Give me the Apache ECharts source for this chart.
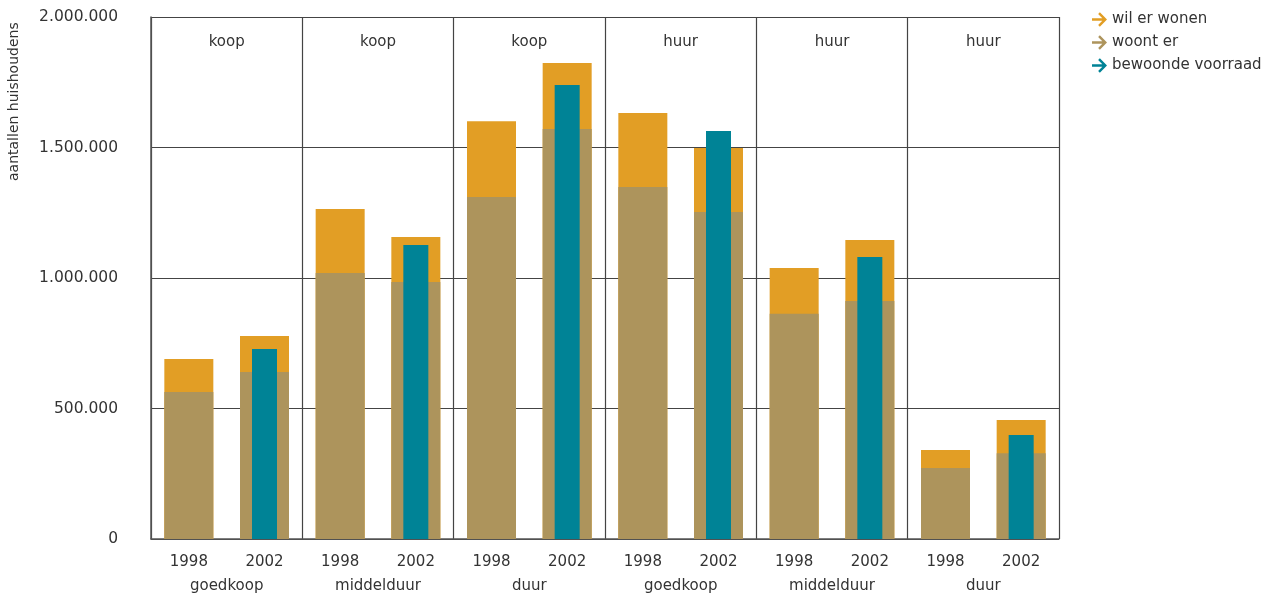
<!DOCTYPE html>
<html><head><meta charset="utf-8">
<script src="https://cdn.jsdelivr.net/npm/echarts@6/dist/echarts.min.js"></script>
<style>html,body{margin:0;padding:0;background:#fff}#c{width:1282px;height:597px}</style>
</head><body><div id="c"></div>
<script>
const years = ['1998','2002','1998','2002','1998','2002','1998','2002','1998','2002','1998','2002'];
const groups = ['goedkoop','middelduur','duur','goedkoop','middelduur','duur'];
const tenure = ['koop','koop','koop','huur','huur','huur'];
const wilErWonen = [690000,778000,1264000,1157000,1601000,1824000,1632000,1498000,1038000,1146000,341000,456000];
const woontEr = [563000,640000,1019000,985000,1310000,1571000,1349000,1253000,863000,912000,272000,329000];
const bewoondeVoorraad = [null,728000,null,1126000,null,1739000,null,1563000,null,1080000,null,398000];
const yTicks = {min:0, max:2000000, interval:500000};

const FONT = 'DejaVu Sans';
const TXT = '#333';
const arrow = 'path://M0,4.2 L7.2,4.2 L4.3,1.2 L5.5,0 L10.5,5 L5.5,10 L4.3,8.8 L7.2,5.8 L0,5.8 Z';
const fmt = v => String(v).replace(/\B(?=(\d{3})+(?!\d))/g, '.');

const chart = echarts.init(document.getElementById('c'), null, {renderer:'canvas'});
chart.setOption({
  animation:false,
  textStyle:{fontFamily:FONT},
  grid:{left:151, right:223, top:17, bottom:58},
  legend:{
    orient:'vertical', left:1087, top:7, itemGap:8, itemWidth:15, itemHeight:15,
    textStyle:{fontFamily:FONT, fontSize:15, color:TXT},
    data:[{name:'wil er wonen', icon:arrow},{name:'woont er', icon:arrow},{name:'bewoonde voorraad', icon:arrow}]
  },
  graphic:[{type:'text', x:7, y:181, rotation:Math.PI/2,
    style:{text:'aantallen huishoudens', fontFamily:FONT, fontSize:14, fill:TXT, textVerticalAlign:'top'}}],
  xAxis:[
    {type:'category', data:years, position:'bottom',
      axisLine:{show:true, lineStyle:{color:'#555', width:1.5}}, axisTick:{show:false},
      axisLabel:{fontFamily:FONT, fontSize:15, color:TXT, margin:16}, splitLine:{show:false}},
    {type:'category', data:years, show:false},
    {type:'category', data:groups, position:'bottom', axisLine:{show:false}, axisTick:{show:false},
      axisLabel:{fontFamily:FONT, fontSize:15, color:TXT, margin:40},
      splitLine:{show:true, lineStyle:{color:'#444', width:1.2}}},
    {type:'category', data:tenure, position:'top', axisLine:{show:false}, axisTick:{show:false},
      axisLabel:{inside:true, fontFamily:FONT, fontSize:15, color:TXT, margin:18}}
  ],
  yAxis:{type:'value', min:yTicks.min, max:yTicks.max, interval:yTicks.interval,
    axisLine:{show:true, lineStyle:{color:'#555', width:1.5}}, axisTick:{show:false},
    axisLabel:{fontFamily:FONT, fontSize:15.5, color:TXT, margin:33, formatter:fmt},
    splitLine:{show:true, lineStyle:{color:'#444', width:1.2}}},
  series:[
    {name:'wil er wonen', type:'bar', xAxisIndex:0, data:wilErWonen, barWidth:49, barGap:'-100%',
      itemStyle:{color:'#E29E25'}},
    {name:'woont er', type:'bar', xAxisIndex:0, data:woontEr, barWidth:49, barGap:'-100%',
      itemStyle:{color:'#AD945C'}},
    {name:'bewoonde voorraad', type:'bar', xAxisIndex:1, data:bewoondeVoorraad, barWidth:25,
      itemStyle:{color:'#008396'}}
  ]
});
</script></body></html>
